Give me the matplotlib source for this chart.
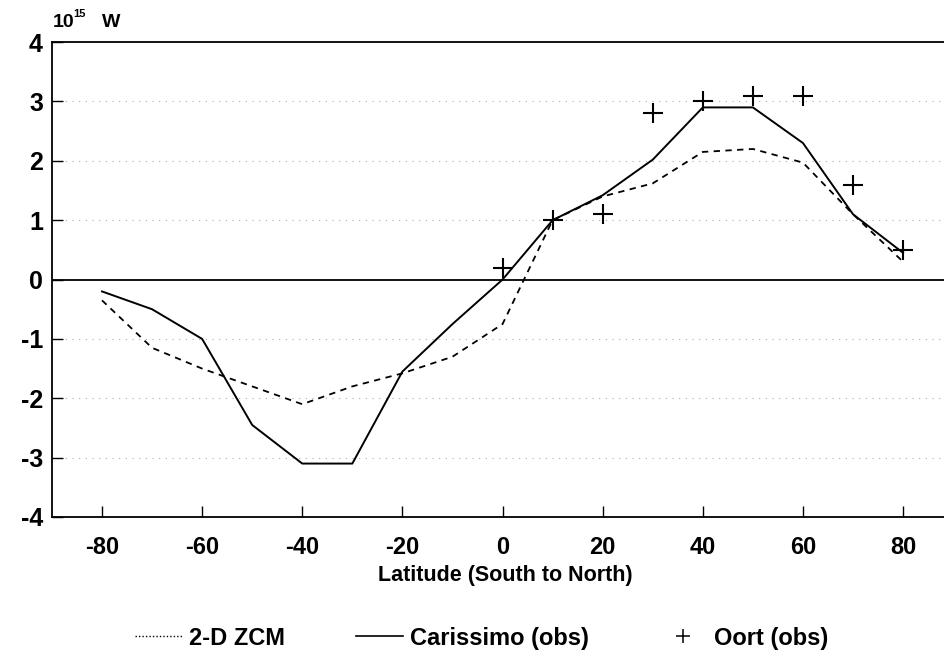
import matplotlib
matplotlib.use("Agg")
import matplotlib.pyplot as plt
from matplotlib.lines import Line2D

lat = [-80, -70, -60, -50, -40, -30, -20, -10, 0, 10, 20, 30, 40, 50, 60, 70, 80]
zcm = [-0.35, -1.15, -1.5, -1.8, -2.1, -1.8, -1.58, -1.3, -0.75, 1.0, 1.4, 1.62, 2.15, 2.2, 1.97, 1.1, 0.3]
carissimo = [-0.2, -0.5, -1.0, -2.45, -3.1, -3.1, -1.55, -0.75, 0.0, 1.0, 1.42, 2.02, 2.9, 2.9, 2.3, 1.1, 0.45]
oort_lat = [0, 10, 20, 30, 40, 50, 60, 70, 80]
oort = [0.2, 1.0, 1.1, 2.8, 3.0, 3.1, 3.1, 1.6, 0.5]
xticks = [-80, -60, -40, -20, 0, 20, 40, 60, 80]
yticks = [-4, -3, -2, -1, 0, 1, 2, 3, 4]

fam = ['Liberation Sans', 'DejaVu Sans']
plt.rcParams['font.family'] = fam
plt.rcParams['font.weight'] = 'bold'

fig = plt.figure(figsize=(9.44, 6.58), dpi=100)
ax = fig.add_axes([0.055, 0.2143, 0.9600, 0.7217])

for g in [-3, -2, -1, 1, 2, 3]:
    ax.axhline(g, color='#aaaaaa', lw=0.8, ls=(0, (1, 5)), zorder=1)
ax.axhline(0, color='black', lw=1.3, zorder=2)

ax.plot(lat, zcm, color='black', lw=1.3, ls=(0, (3.5, 3)), zorder=3)
ax.plot(lat, carissimo, color='black', lw=1.4, zorder=3)
ax.plot(oort_lat, oort, ls='none', marker='+', ms=14, mew=1.5, color='black', zorder=4)

ax.set_xlim(-90, 91)
ax.set_ylim(-4, 4)
ax.set_xticks(xticks)
ax.set_yticks(yticks)
ax.set_xticklabels([str(t) for t in xticks], fontsize=17, fontweight='bold')
ax.set_yticklabels([str(t) for t in yticks], fontsize=18, fontweight='bold')
ax.tick_params(axis='both', direction='in', length=8, width=1)
ax.tick_params(axis='x', pad=14)
ax.tick_params(axis='y', pad=6.5)
ax.spines['right'].set_visible(False)
for s in ['left', 'bottom', 'top']:
    ax.spines[s].set_linewidth(1.3)

ax.set_xlabel('Latitude (South to North)', fontsize=15.5, fontweight='bold', labelpad=4)

fig.text(0.056, 0.959, '10', fontsize=14, fontweight='bold', ha='left', va='baseline')
fig.text(0.078, 0.974, '15', fontsize=8, fontweight='bold', ha='left', va='baseline')
fig.text(0.108, 0.959, 'W', fontsize=14, fontweight='bold', ha='left', va='baseline')

handles = [
    Line2D([], [], color='black', lw=1.0, ls=(0, (1, 1.5))),
    Line2D([], [], color='black', lw=1.2),
    Line2D([], [], color='black', ls='none', marker='+', ms=10, mew=1.1),
]
labels = ['2-D ZCM', 'Carissimo (obs)', 'Oort (obs)']
fig.legend(handles, labels, loc='center', bbox_to_anchor=(0.51, 0.030), ncol=3,
           frameon=False, prop={'family': fam, 'size': 17, 'weight': 'bold'},
           handlelength=2.0, handletextpad=0.3, columnspacing=3.0)

fig.savefig('out.png', dpi=100)
